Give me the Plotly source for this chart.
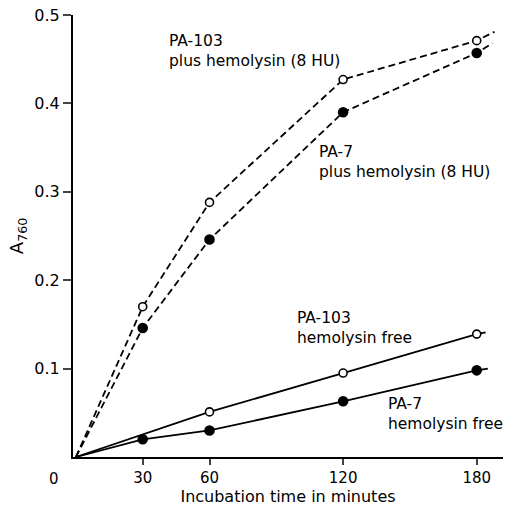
import plotly.graph_objects as go

# Data
times = [0, 30, 60, 120, 180]
pa103_hly = [0, 0.170, 0.288, 0.427, 0.471]
pa7_hly = [0, 0.146, 0.246, 0.390, 0.457]
pa103_free_t = [0, 60, 120, 180]
pa103_free = [0, 0.051, 0.095, 0.139]
pa7_free = [0, 0.020, 0.030, 0.063, 0.098]

# short continuation of each line past the last measurement
ext_t = {"pa103_hly": 188, "pa7_hly": 187, "pa103_free": 184, "pa7_free": 185}
ext_v = {"pa103_hly": 0.481, "pa7_hly": 0.468, "pa103_free": 0.141, "pa7_free": 0.100}

x_ticks = [30, 60, 120, 180]
y_ticks = [0.1, 0.2, 0.3, 0.4, 0.5]
y_ticklabels = ["0.1", "0.2", "0.3", "0.4", "0.5"]

FONT = "DejaVu Sans"
fig = go.Figure()

def add_series(t, v, key, dash, filled):
    fig.add_trace(go.Scatter(
        x=t + [ext_t[key]], y=v + [ext_v[key]], mode="lines",
        line=dict(color="black", width=1.8, dash=dash), showlegend=False,
        hoverinfo="skip"))
    fig.add_trace(go.Scatter(
        x=t[1:], y=v[1:], mode="markers", showlegend=False,
        marker=dict(symbol="circle", size=9 if filled else 8,
                    color="black" if filled else "white",
                    line=dict(color="black", width=1.6))))

add_series(times, pa103_hly, "pa103_hly", "7px,4px", False)
add_series(times, pa7_hly, "pa7_hly", "7px,4px", True)
add_series(pa103_free_t, pa103_free, "pa103_free", "solid", False)
add_series(times, pa7_free, "pa7_free", "solid", True)

# (left pixel, vertical middle pixel, text)
labels = [
    (167, 51, "PA-103<br>plus hemolysin (8 HU)"),
    (317, 162, "PA-7<br>plus hemolysin (8 HU)"),
    (295, 328, "PA-103<br>hemolysin free"),
    (386, 414, "PA-7<br>hemolysin free"),
]

x0, scale = -1.3, 2.2267
for px, py, txt in labels:
    fig.add_annotation(x=(px - 73) / scale + x0, y=(457 - py) / 884, text=txt,
                       showarrow=False, xanchor="left", yanchor="middle", align="left",
                       font=dict(family=FONT, size=15.5, color="black"))

fig.add_annotation(xref="paper", yref="paper", x=(54 - 73) / 430, y=-11 / 442,
                   text="0", showarrow=False, xanchor="center", yanchor="top",
                   font=dict(family=FONT, size=15, color="black"))

fig.update_layout(
    width=529, height=508,
    margin=dict(l=73, r=26, t=15, b=51, autoexpand=False),
    plot_bgcolor="white", paper_bgcolor="white",
    font=dict(family=FONT, color="black"),
    xaxis=dict(range=[-1.3, 191.8], tickvals=x_ticks, ticks="outside", ticklen=6,
               tickwidth=1.5, showline=True, linewidth=2, linecolor="black",
               showgrid=False, zeroline=False, tickfont=dict(size=15),
               automargin=False,
               title=dict(text="Incubation time in minutes", font=dict(size=16), standoff=2)),
    yaxis=dict(range=[0, 0.5], tickvals=y_ticks, ticktext=y_ticklabels, ticks="outside",
               ticklen=8, tickwidth=1.5, showline=True, linewidth=2, linecolor="black",
               showgrid=False, zeroline=False, tickfont=dict(size=16), automargin=False,
               title=dict(text="A<sub>760</sub>", font=dict(size=18), standoff=6)),
)

fig.write_html("out.html")
